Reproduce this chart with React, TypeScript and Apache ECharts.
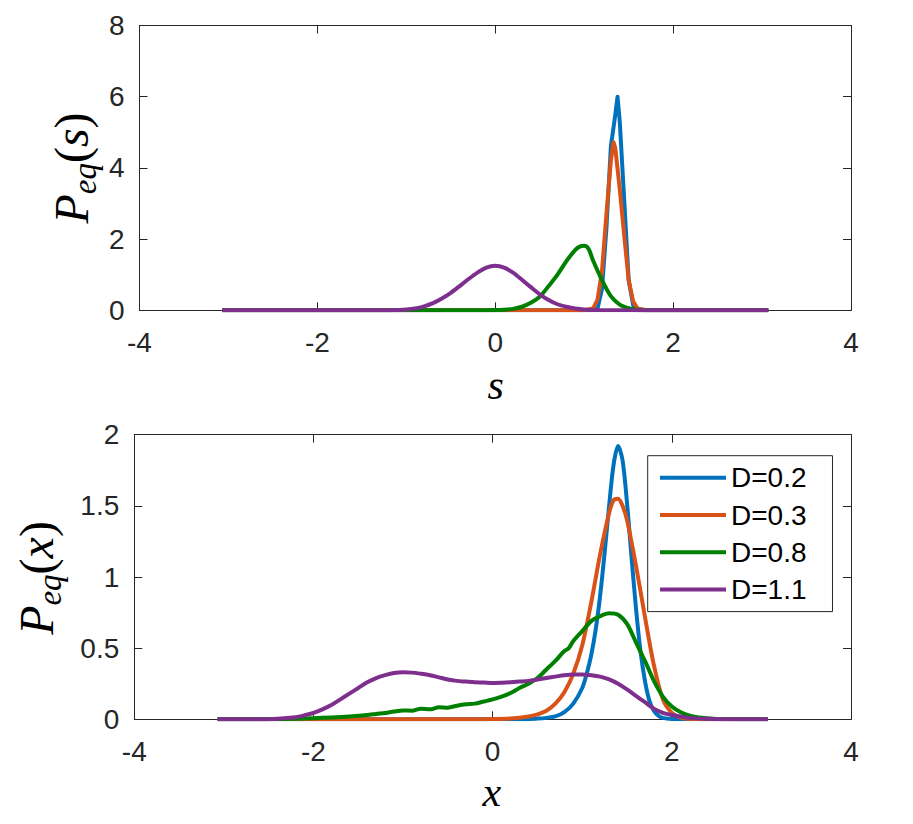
import React, { useEffect, useRef } from "react";
import * as echarts from "echarts";

const seriesNames = ["D=0.2", "D=0.3", "D=0.8", "D=1.1"];
const seriesColors = ["#0072BD", "#D95319", "#008000", "#7E2F8E"];

const xTickValues = [-4, -2, 0, 2, 4];
const topYTickValues = [0, 2, 4, 6, 8];
const botYTickValues = [0, 0.5, 1, 1.5, 2];

// ---- top panel: P_eq(s) ----
const topX_D02 = [-3.07, 1.1, 1.15, 1.2, 1.25, 1.3, 1.35, 1.375, 1.4, 1.45, 1.5, 1.55, 1.6, 3.07];
const topY_D02 = [0, 0, 0.05, 0.6, 2.3, 4.6, 5.5, 6.0, 5.3, 3.1, 0.85, 0.15, 0, 0];

const topX_D03 = [-3.07, 1.0, 1.1, 1.15, 1.2, 1.25, 1.3, 1.33, 1.35, 1.4, 1.45, 1.5, 1.55, 1.6, 1.7, 3.07];
const topY_D03 = [0, 0, 0.05, 0.3, 1.1, 2.7, 4.2, 4.72, 4.55, 3.4, 2.1, 0.85, 0.25, 0.05, 0, 0];

const topX_D08 = [-3.07, -0.2, 0, 0.1, 0.2, 0.3, 0.4, 0.5, 0.6, 0.7, 0.8, 0.9, 0.95, 1.0, 1.05, 1.1, 1.2, 1.3, 1.4, 1.5, 1.6, 1.7, 3.07];
const topY_D08 = [0, 0, 0.005, 0.015, 0.04, 0.1, 0.21, 0.38, 0.68, 1.0, 1.38, 1.7, 1.79, 1.81, 1.72, 1.4, 0.85, 0.4, 0.16, 0.06, 0.015, 0, 0];

const topX_D11 = [-3.07, -1.3, -1.1, -1.0, -0.9, -0.8, -0.7, -0.6, -0.5, -0.4, -0.3, -0.2, -0.1, 0, 0.1, 0.2, 0.3, 0.4, 0.5, 0.6, 0.7, 0.8, 0.9, 1.0, 1.1, 1.3, 3.07];
const topY_D11 = [0, 0, 0.01, 0.02, 0.05, 0.11, 0.2, 0.33, 0.49, 0.68, 0.88, 1.06, 1.2, 1.25, 1.2, 1.06, 0.86, 0.65, 0.45, 0.29, 0.17, 0.1, 0.05, 0.02, 0.01, 0, 0];

// ---- bottom panel: P_eq(x) ----
const botX_D02 = [-3.07, 0.3, 0.5, 0.6, 0.7, 0.8, 0.9, 1.0, 1.05, 1.1, 1.15, 1.2, 1.25, 1.3, 1.35, 1.4, 1.45, 1.5, 1.55, 1.6, 1.65, 1.7, 1.75, 1.8, 1.85, 1.9, 2.0, 2.2, 3.07];
const botY_D02 = [0, 0, 0.005, 0.01, 0.02, 0.05, 0.11, 0.22, 0.32, 0.45, 0.63, 0.87, 1.17, 1.5, 1.79, 1.92, 1.82, 1.52, 1.14, 0.78, 0.48, 0.27, 0.13, 0.06, 0.025, 0.01, 0.002, 0, 0];

const botX_D03 = [-3.07, -0.2, 0, 0.2, 0.4, 0.5, 0.6, 0.7, 0.8, 0.9, 1.0, 1.1, 1.2, 1.3, 1.35, 1.4, 1.45, 1.5, 1.6, 1.7, 1.8, 1.9, 2.0, 2.1, 2.2, 2.4, 3.07];
const botY_D03 = [0, 0, 0.002, 0.006, 0.02, 0.035, 0.06, 0.11, 0.19, 0.32, 0.52, 0.82, 1.16, 1.45, 1.54, 1.55, 1.5, 1.4, 1.08, 0.72, 0.38, 0.14, 0.045, 0.012, 0.003, 0, 0];

const botX_D08 = [-3.07, -2.6, -2.4, -2.2, -2.0, -1.8, -1.6, -1.4, -1.3, -1.2, -1.1, -1.0, -0.9, -0.8, -0.7, -0.6, -0.5, -0.4, -0.3, -0.2, -0.1, 0, 0.1, 0.2, 0.3, 0.4, 0.5, 0.6, 0.7, 0.8, 0.85, 0.9, 1.0, 1.1, 1.2, 1.3, 1.4, 1.5, 1.6, 1.7, 1.8, 1.9, 2.0, 2.1, 2.2, 2.3, 2.5, 2.7, 3.07];
const botY_D08 = [0, 0, 0.002, 0.004, 0.008, 0.013, 0.02, 0.03, 0.038, 0.045, 0.055, 0.062, 0.06, 0.075, 0.07, 0.085, 0.082, 0.095, 0.105, 0.11, 0.125, 0.14, 0.16, 0.185, 0.22, 0.25, 0.29, 0.35, 0.41, 0.48, 0.5, 0.55, 0.62, 0.69, 0.725, 0.745, 0.735, 0.67, 0.54, 0.41, 0.27, 0.16, 0.09, 0.05, 0.025, 0.012, 0.003, 0, 0];

const botX_D11 = [-3.07, -2.6, -2.4, -2.2, -2.1, -2.0, -1.9, -1.8, -1.7, -1.6, -1.5, -1.4, -1.3, -1.2, -1.1, -1.0, -0.9, -0.8, -0.7, -0.6, -0.5, -0.4, -0.3, -0.2, -0.1, 0, 0.1, 0.2, 0.3, 0.4, 0.5, 0.6, 0.7, 0.8, 0.9, 1.0, 1.1, 1.2, 1.3, 1.4, 1.5, 1.6, 1.7, 1.8, 1.9, 2.0, 2.2, 2.4, 2.6, 3.07];
const botY_D11 = [0, 0, 0.004, 0.015, 0.028, 0.045, 0.07, 0.1, 0.14, 0.18, 0.22, 0.26, 0.29, 0.31, 0.325, 0.33, 0.328, 0.32, 0.31, 0.295, 0.28, 0.27, 0.265, 0.26, 0.258, 0.255, 0.257, 0.26, 0.265, 0.27, 0.28, 0.29, 0.3, 0.31, 0.315, 0.315, 0.31, 0.3, 0.28, 0.25, 0.21, 0.165, 0.12, 0.075, 0.045, 0.03, 0.01, 0.003, 0, 0];

const topXs = [topX_D02, topX_D03, topX_D08, topX_D11];
const topYs = [topY_D02, topY_D03, topY_D08, topY_D11];
const botXs = [botX_D02, botX_D03, botX_D08, botX_D11];
const botYs = [botY_D02, botY_D03, botY_D08, botY_D11];

const AXIS_COLOR = "#262626";
const TICK_FONT = "'Liberation Sans', Arial, Helvetica, sans-serif";
const MATH_FONT = "'Liberation Serif', 'Times New Roman', serif";
const LINE_W = 4;

function zip(xs: number[], ys: number[]) {
  return xs.map((x, i) => [x, ys[i]]);
}

function measure(text: string, font: string) {
  const c = document.createElement("canvas").getContext("2d");
  if (!c) return text.length * 20;
  c.font = font;
  return c.measureText(text).width;
}

type Part = { t: string; size: number; italic: boolean; base: number };

function mathLabel(parts: Part[], originX: number, centerY: number, rotated: boolean) {
  let total = 0;
  const widths = parts.map((p) => {
    const w = measure(p.t, `${p.italic ? "italic " : ""}${p.size}px ${MATH_FONT}`);
    total += w;
    return w;
  });
  let cur = 0;
  const children = parts.map((p, i) => {
    const el = {
      type: "text",
      x: cur,
      y: p.base - 0.3375 * p.size,
      style: {
        text: p.t,
        fontSize: p.size,
        fontFamily: MATH_FONT,
        fontStyle: p.italic ? "italic" : "normal",
        fill: "#000",
        textAlign: "left",
        align: "left",
        textVerticalAlign: "middle",
        verticalAlign: "middle",
      },
    };
    cur += widths[i];
    return el;
  });
  if (rotated) {
    return { type: "group", x: originX, y: centerY + total / 2, rotation: Math.PI / 2, children };
  }
  return { type: "group", x: originX - total / 2, y: centerY, children };
}

function axisPair(kind: "x" | "y", gridIndex: number, ticks: number[]) {
  const min = ticks[0];
  const max = ticks[ticks.length - 1];
  const interval = ticks[1] - ticks[0];
  const base = {
    gridIndex,
    type: "value",
    min,
    max,
    interval,
    splitLine: { show: false },
    axisLine: { show: true, onZero: false, lineStyle: { color: AXIS_COLOR, width: 1 } },
    axisTick: { show: true, inside: true, length: 8, lineStyle: { color: AXIS_COLOR, width: 1 } },
  };
  const main = {
    ...base,
    position: kind === "x" ? "bottom" : "left",
    axisLabel: {
      show: true,
      fontSize: 28,
      fontFamily: TICK_FONT,
      color: AXIS_COLOR,
      margin: kind === "x" ? 18 : 15,
    },
  };
  const mirror = {
    ...base,
    position: kind === "x" ? "top" : "right",
    axisLabel: { show: false },
  };
  return [main, mirror];
}

export default function App() {
  const ref = useRef<HTMLDivElement>(null);

  useEffect(() => {
    if (!ref.current) return;
    const chart = echarts.init(ref.current, undefined, { renderer: "svg" });

    const series: any[] = [];
    seriesNames.forEach((name, i) => {
      series.push({
        name,
        type: "line",
        xAxisIndex: 0,
        yAxisIndex: 0,
        data: zip(topXs[i], topYs[i]),
        symbol: "none",
        smooth: i >= 2 ? 0.3 : false,
        lineStyle: { color: seriesColors[i], width: LINE_W, join: "round" },
        itemStyle: { color: seriesColors[i] },
        z: 2 + i,
      });
    });
    seriesNames.forEach((name, i) => {
      series.push({
        name,
        type: "line",
        xAxisIndex: 2,
        yAxisIndex: 2,
        data: zip(botXs[i], botYs[i]),
        symbol: "none",
        smooth: 0.3,
        lineStyle: { color: seriesColors[i], width: LINE_W, join: "round" },
        itemStyle: { color: seriesColors[i] },
        z: 2 + i,
      });
    });

    const graphics = [
      mathLabel(
        [
          { t: "P", size: 48, italic: true, base: 0 },
          { t: "eq", size: 33, italic: true, base: 8 },
          { t: "(", size: 48, italic: false, base: 0 },
          { t: "s", size: 48, italic: true, base: 0 },
          { t: ")", size: 48, italic: false, base: 0 },
        ],
        88,
        168,
        true
      ),
      mathLabel(
        [
          { t: "P", size: 48, italic: true, base: 0 },
          { t: "eq", size: 33, italic: true, base: 8 },
          { t: "(", size: 48, italic: false, base: 0 },
          { t: "x", size: 48, italic: true, base: 0 },
          { t: ")", size: 48, italic: false, base: 0 },
        ],
        53,
        578,
        true
      ),
      mathLabel([{ t: "s", size: 42, italic: true, base: 0 }], 495.7, 399, false),
      mathLabel([{ t: "x", size: 42, italic: true, base: 0 }], 491.7, 806, false),
    ];

    const [tx, txm] = axisPair("x", 0, xTickValues);
    const [ty, tym] = axisPair("y", 0, topYTickValues);
    const [bx, bxm] = axisPair("x", 1, xTickValues);
    const [by, bym] = axisPair("y", 1, botYTickValues);

    chart.setOption({
      animation: false,
      backgroundColor: "#ffffff",
      grid: [
        { left: 139.5, right: 62, top: 25.5, height: 284.8, outerBoundsMode: "none", containLabel: false },
        { left: 134.3, right: 62, top: 434.7, height: 284.6, outerBoundsMode: "none", containLabel: false },
      ],
      xAxis: [tx, txm, bx, bxm],
      yAxis: [ty, tym, by, bym],
      legend: {
        data: seriesNames,
        orient: "vertical",
        left: 647.7,
        top: 455.7,
        padding: [8, 26, 8, 10.3],
        itemWidth: 66,
        itemHeight: 28,
        itemGap: 9.3,
        backgroundColor: "#ffffff",
        borderColor: AXIS_COLOR,
        borderWidth: 1,
        borderRadius: 0,
        selectedMode: false,
        itemStyle: { opacity: 0, borderWidth: 0 },
        lineStyle: { width: LINE_W },
        textStyle: { fontSize: 28, fontFamily: TICK_FONT, color: "#000" },
      },
      graphic: graphics,
      series,
    });

    return () => chart.dispose();
  }, []);

  return (
    <div
      ref={ref}
      style={{ position: "fixed", left: 0, top: 0, width: 913, height: 824, background: "#fff" }}
    />
  );
}
